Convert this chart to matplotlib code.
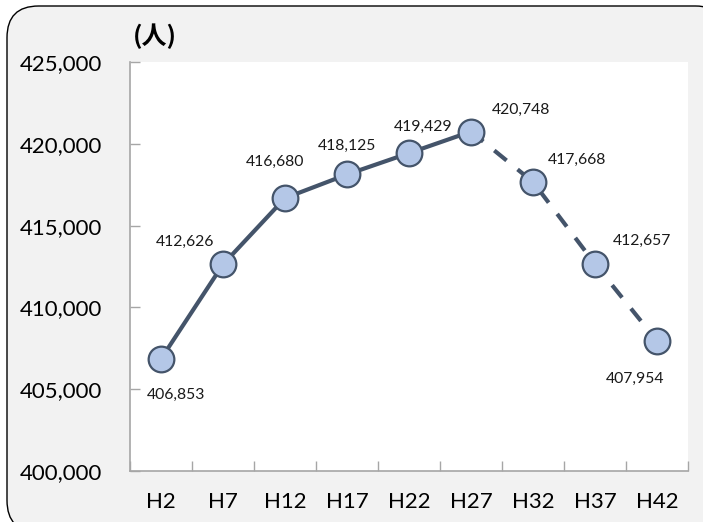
import matplotlib
matplotlib.use("Agg")
import matplotlib.pyplot as plt
from matplotlib.patches import FancyBboxPatch
from matplotlib.ticker import FuncFormatter, FixedLocator

# Population by census year (Heisei era)
years = ["H2", "H7", "H12", "H17", "H22", "H27", "H32", "H37", "H42"]
population = [406853, 412626, 416680, 418125, 419429, 420748, 417668, 412657, 407954]
n_actual = 6  # H2..H27 are census results; the rest are projections

# label offsets in pixels (dx, dy) relative to each point
label_offsets = [(15, -36), (-38, 23), (-10, 36), (0, 29), (14, 26),
                 (50, 22), (44, 22), (47, 23), (-22, -38)]

FONT = ["Lato", "Noto Sans CJK JP", "DejaVu Sans"]
plt.rcParams["font.family"] = FONT

W, H = 703, 522
fig = plt.figure(figsize=(W / 100, H / 100), dpi=100)
fig.patch.set_facecolor("white")

# rounded outer frame
frame = FancyBboxPatch((7 / W, -10 / H), 720 / W, (H - 6 + 10) / H,
                       boxstyle="round,pad=0,rounding_size=0.045",
                       transform=fig.transFigure, facecolor="#f2f2f2",
                       edgecolor="black", linewidth=1.0, zorder=0,
                       mutation_aspect=W / H)
fig.patches.append(frame)

left, right, top, bottom = 130, 688, 62, 471
ax = fig.add_axes([left / W, 1 - bottom / H, (right - left) / W, (bottom - top) / H])
ax.set_zorder(2)
ax.set_facecolor("white")

x = list(range(len(years)))
line_c = "#44546a"
face_c = "#b4c7e7"

ax.plot(x[:n_actual], population[:n_actual], color=line_c, lw=3.0,
        solid_capstyle="round", zorder=2)
ax.plot(x[n_actual - 1:], population[n_actual - 1:], color=line_c, lw=3.0,
        dashes=(3.8, 3.4), dash_capstyle="butt", zorder=2)
ax.plot(x, population, linestyle="none", marker="o", markersize=18.5,
        markerfacecolor=face_c, markeredgecolor=line_c, markeredgewidth=1.6,
        zorder=3)

for xi, v, (dx, dy) in zip(x, population, label_offsets):
    ax.annotate(f"{v:,}", (xi, v), xytext=(dx, dy), textcoords="offset pixels",
                ha="center", va="center", fontsize=11.3, color="#1a1a1a")

ax.set_xlim(-0.5, len(years) - 0.5)
ax.set_ylim(400000, 425000)
ax.set_yticks([400000, 405000, 410000, 415000, 420000, 425000])
ax.yaxis.set_major_formatter(FuncFormatter(lambda v, p: f"{int(v):,}"))

ax.set_xticks(x)
ax.set_xticklabels(years)
ax.xaxis.set_minor_locator(FixedLocator([i - 0.5 for i in range(len(years) + 1)]))
ax.tick_params(axis="x", which="major", length=0, pad=15, labelsize=16)
ax.tick_params(axis="x", which="minor", direction="in", length=7, color="#a6a6a6", width=1)
ax.tick_params(axis="y", direction="in", length=7, color="#a6a6a6", width=1,
               pad=20, labelsize=16)

for s in ("top", "right"):
    ax.spines[s].set_visible(False)
for s in ("left", "bottom"):
    ax.spines[s].set_color("#a6a6a6")
    ax.spines[s].set_linewidth(1.2)

fig.text(133 / W, 1 - 36 / H, "(人)", fontsize=18, fontweight="bold",
         ha="left", va="center", family=["Noto Sans CJK JP", "DejaVu Sans"],
         zorder=3)

fig.savefig("out.png", dpi=100)
